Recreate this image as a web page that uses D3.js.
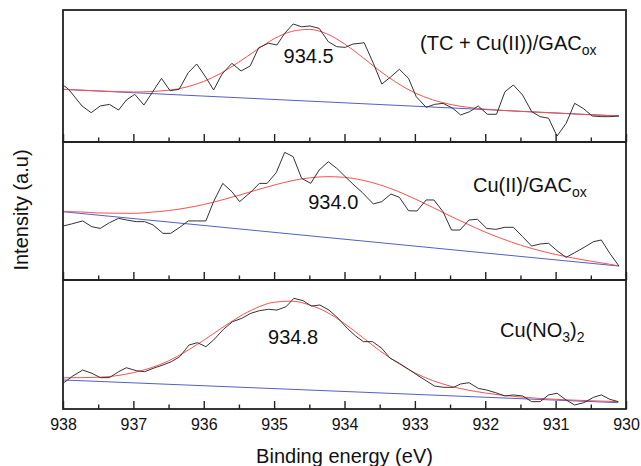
<!DOCTYPE html>
<html><head><meta charset="utf-8">
<script src="https://cdn.jsdelivr.net/npm/d3@7/dist/d3.min.js"></script>
<style>
body{margin:0;background:#fff;}
svg{display:block;font-family:"Liberation Sans",Arial,Helvetica,sans-serif;}
</style>
</head><body>
<svg id="chart" width="641" height="466"></svg>
<script>
// ---------- data ----------
const majorTicks = [938, 937, 936, 935, 934, 933, 932, 931, 930];
const minorTicks = [937.5, 936.5, 935.5, 934.5, 933.5, 932.5, 931.5, 930.5];

// (TC + Cu(II))/GACox
const tcE = [938.00,937.92,937.73,937.60,937.47,937.34,937.21,937.10,936.98,936.85,936.60,936.48,936.35,936.22,936.10,935.97,935.86,935.74,935.60,935.47,935.34,935.22,935.08,934.96,934.85,934.73,934.61,934.49,934.36,934.23,934.11,933.99,933.88,933.72,933.59,933.47,933.35,933.22,933.09,932.98,932.84,932.72,932.60,932.46,932.35,932.22,932.10,931.97,931.84,931.72,931.60,931.47,931.34,931.22,931.10,930.98,930.85,930.73,930.61,930.48,930.35,930.23,930.10];
const tcI = [43.2,39.9,27.3,22.2,27.3,28.5,24.2,31.8,36.1,28.0,48.2,38.9,39.9,52.5,59.1,49.0,39.4,51.5,59.6,53.8,57.6,71.4,74.8,73.5,82.3,89.4,87.3,87.9,86.1,76.0,72.2,71.7,74.2,75.2,59.6,43.9,49.0,55.1,48.2,34.3,26.3,28.5,29.3,25.5,20.5,23.0,27.3,21.0,21.0,38.1,43.2,35.6,23.0,19.2,18.0,4.5,14.2,29.3,25.5,19.7,19.2,19.2,19.7];
const tcFitE = [938,937.5,937,936.5,936.25,936,935.75,935.5,935.25,935,934.75,934.5,934.25,934,933.75,933.5,933.25,933,932.75,932.5,932,931.5,931,930.5,930.1];
const tcFitI = [39.9,38.7,37.9,39.2,41.6,45.9,52.3,60.6,69.7,78.2,83.8,85.3,81.9,74.3,64.4,53.9,44.6,37.2,32.0,28.5,24.9,23.2,21.9,20.6,19.7];
const tcBaseE = [938, 930.1];
const tcBaseI = [39.9, 19.7];

// Cu(II)/GACox
const cuE = [938.00,937.88,937.72,937.59,937.47,937.34,937.21,937.10,936.96,936.84,936.72,936.58,936.47,936.34,936.22,936.10,935.97,935.86,935.73,935.60,935.49,935.34,935.21,935.10,934.97,934.85,934.73,934.61,934.48,934.36,934.23,934.11,933.98,933.88,933.75,933.59,933.47,933.34,933.22,933.09,932.97,932.84,932.73,932.60,932.48,932.36,932.23,932.11,931.98,931.85,931.72,931.60,931.47,931.34,931.22,931.10,930.98,930.85,930.73,930.58,930.46,930.35,930.23,930.10];
const cuI = [39.1,40.6,42.8,38.6,37.4,41.5,44.7,43.5,42.3,42.3,39.9,33.8,33.8,38.2,42.8,42.8,42.8,56.8,70.0,64.0,56.8,63.3,70.0,70.0,77.8,92.5,89.4,73.7,70.0,79.7,85.7,80.9,74.4,69.5,63.5,55.1,56.8,62.3,59.9,50.2,50.0,58.0,58.0,49.5,36.2,36.2,43.5,44.0,37.4,36.7,38.2,38.2,31.4,24.6,26.1,26.6,21.2,16.4,19.8,24.1,27.8,29.0,19.3,10.1];
const cuFitE = [938,937.75,937.5,937.25,937,936.75,936.5,936.25,936,935.75,935.5,935.25,935,934.75,934.5,934.25,934,933.75,933.5,933.25,933,932.75,932.5,932.25,932,931.75,931.5,931.25,931,930.75,930.5,930.25,930.1];
const cuFitI = [49.6,49.3,48.6,48.4,48.3,49.1,50.3,52.2,54.7,57.9,61.4,65.2,68.8,71.9,74.0,74.9,74.4,72.4,69.0,64.4,58.8,52.7,46.4,40.4,34.7,29.7,25.3,21.6,18.5,15.9,13.6,11.6,10.2];
const cuBaseE = [938, 930.1];
const cuBaseI = [49.5, 10.1];

// Cu(NO3)2
const noE = [938.00,937.86,937.72,937.59,937.47,937.34,937.21,937.10,936.96,936.84,936.72,936.58,936.46,936.34,936.21,936.09,935.97,935.86,935.72,935.59,935.46,935.33,935.21,935.08,934.96,934.83,934.72,934.59,934.47,934.35,934.22,934.09,933.96,933.84,933.73,933.60,933.47,933.35,933.22,933.09,932.97,932.84,932.72,932.59,932.45,932.35,932.23,932.10,931.98,931.85,931.72,931.60,931.47,931.34,931.22,931.10,930.98,930.85,930.73,930.60,930.46,930.35,930.23,930.11];
const noI = [19.9,25.6,30.2,27.7,24.3,24.3,28.9,32.0,29.7,28.9,31.5,34.1,36.7,40.6,49.6,51.4,48.3,53.5,61.8,67.7,70.3,74.2,76.2,77.3,76.7,79.3,85.8,84.0,79.8,80.6,76.7,70.3,62.5,56.5,52.2,52.2,47.0,39.3,35.4,30.8,26.4,21.9,17.8,16.8,16.8,19.4,20.4,16.0,14.7,12.6,10.1,10.9,10.1,5.7,5.7,10.9,12.2,7.0,3.1,4.9,9.1,10.9,7.5,5.7];
const noFitE = [938,937.5,937,936.75,936.5,936.25,936,935.75,935.5,935.25,935,934.75,934.5,934.25,934,933.75,933.5,933.25,933,932.75,932.5,932,931.5,931,930.5,930.11];
const noFitI = [24.2,24.6,28.2,31.9,37.3,44.7,53.3,62.6,71.4,78.4,82.8,83.6,80.7,75.0,66.2,55.8,45.2,36.0,28.0,22.1,17.8,12.4,9.3,7.5,6.4,5.7];
const noBaseE = [938, 930.11];
const noBaseI = [22.5, 4.9];

const peakLabels = ["934.5", "934.0", "934.8"];
const peakLabelE = [934.51, 934.16, 934.73];
const peakLabelI = [59.8, 51.4, 50.4];

// ---------- layout ----------
const svg = d3.select("#chart");
const L = 63, R = 626;
const x = d3.scaleLinear().domain([938, 930]).range([L, R]);
const zip = (a, b) => a.map((v, i) => [v, b[i]]);

const panels = [
  {top: 10, bottom: 142, E: tcE, I: tcI, fE: tcFitE, fI: tcFitI, bE: tcBaseE, bI: tcBaseI,
   name: [["(TC + Cu(II))/GAC", 0], ["ox", 1]], nx: 420, ny: 50},
  {top: 142, bottom: 280, E: cuE, I: cuI, fE: cuFitE, fI: cuFitI, bE: cuBaseE, bI: cuBaseI,
   name: [["Cu(II)/GAC", 0], ["ox", 1]], nx: 473, ny: 192},
  {top: 280, bottom: 409, E: noE, I: noI, fE: noFitE, fI: noFitI, bE: noBaseE, bI: noBaseI,
   name: [["Cu(NO", 0], ["3", 1], [")", 0], ["2", 1]], nx: 500, ny: 337}
];

panels.forEach((p, k) => {
  const y = d3.scaleLinear().domain([0, 100]).range([p.bottom, p.top]);
  const g = svg.append("g");
  const line = d3.line().x(d => x(d[0])).y(d => y(d[1]));
  const smooth = d3.line().x(d => x(d[0])).y(d => y(d[1])).curve(d3.curveMonotoneX);

  // baseline (blue)
  g.append("path").datum(zip(p.bE, p.bI)).attr("d", line)
    .attr("fill", "none").attr("stroke", "#5060c8").attr("stroke-width", 1);
  // fit (red)
  g.append("path").datum(zip(p.fE, p.fI)).attr("d", smooth)
    .attr("fill", "none").attr("stroke", "#ff5050").attr("stroke-width", 1);
  // raw (black)
  g.append("path").datum(zip(p.E, p.I)).attr("d", line)
    .attr("fill", "none").attr("stroke", "#333").attr("stroke-width", 1)
    .attr("stroke-linejoin", "round");

  // ticks (inward)
  const ax = g.append("g").attr("transform", `translate(0,${p.bottom})`)
    .call(d3.axisBottom(x).tickValues(majorTicks).tickSizeInner(-8).tickSizeOuter(0)
      .tickPadding(10).tickFormat(k === 2 ? d3.format("d") : () => ""));
  ax.select(".domain").remove();
  ax.selectAll("line").attr("stroke", "#222").attr("stroke-width", 1.4);
  ax.selectAll("text").attr("font-size", 16).attr("fill", "#111")
    .attr("font-family", "'Liberation Sans',Arial,sans-serif");
  const mx = g.append("g").attr("transform", `translate(0,${p.bottom})`)
    .call(d3.axisBottom(x).tickValues(minorTicks).tickSizeInner(-4.5).tickSizeOuter(0).tickFormat(() => ""));
  mx.select(".domain").remove();
  mx.selectAll("line").attr("stroke", "#222").attr("stroke-width", 1.4);

  // frame
  g.append("rect").attr("x", L).attr("y", p.top).attr("width", R - L).attr("height", p.bottom - p.top)
    .attr("fill", "none").attr("stroke", "#222").attr("stroke-width", 1.8);

  // peak label
  g.append("text").attr("x", x(peakLabelE[k])).attr("y", y(peakLabelI[k]))
    .attr("text-anchor", "middle").attr("font-size", 20).attr("fill", "#111").text(peakLabels[k]);

  // sample name with subscripts
  const t = g.append("text").attr("x", p.nx).attr("y", p.ny).attr("font-size", 20).attr("fill", "#111");
  let sub = 0;
  p.name.forEach(([s, isSub]) => {
    const shift = (isSub ? 5 : 0) - (sub ? 5 : 0);
    t.append("tspan").attr("dy", shift).attr("font-size", isSub ? 14 : 20).text(s);
    sub = isSub;
  });
});

// axis titles
svg.append("text").attr("x", (L + R) / 2).attr("y", 463).attr("text-anchor", "middle")
  .attr("font-size", 20).attr("fill", "#111").text("Binding energy (eV)");
svg.append("text").attr("transform", "translate(28,210) rotate(-90)").attr("text-anchor", "middle")
  .attr("font-size", 20).attr("fill", "#111").text("Intensity (a.u)");
</script>
</body></html>
